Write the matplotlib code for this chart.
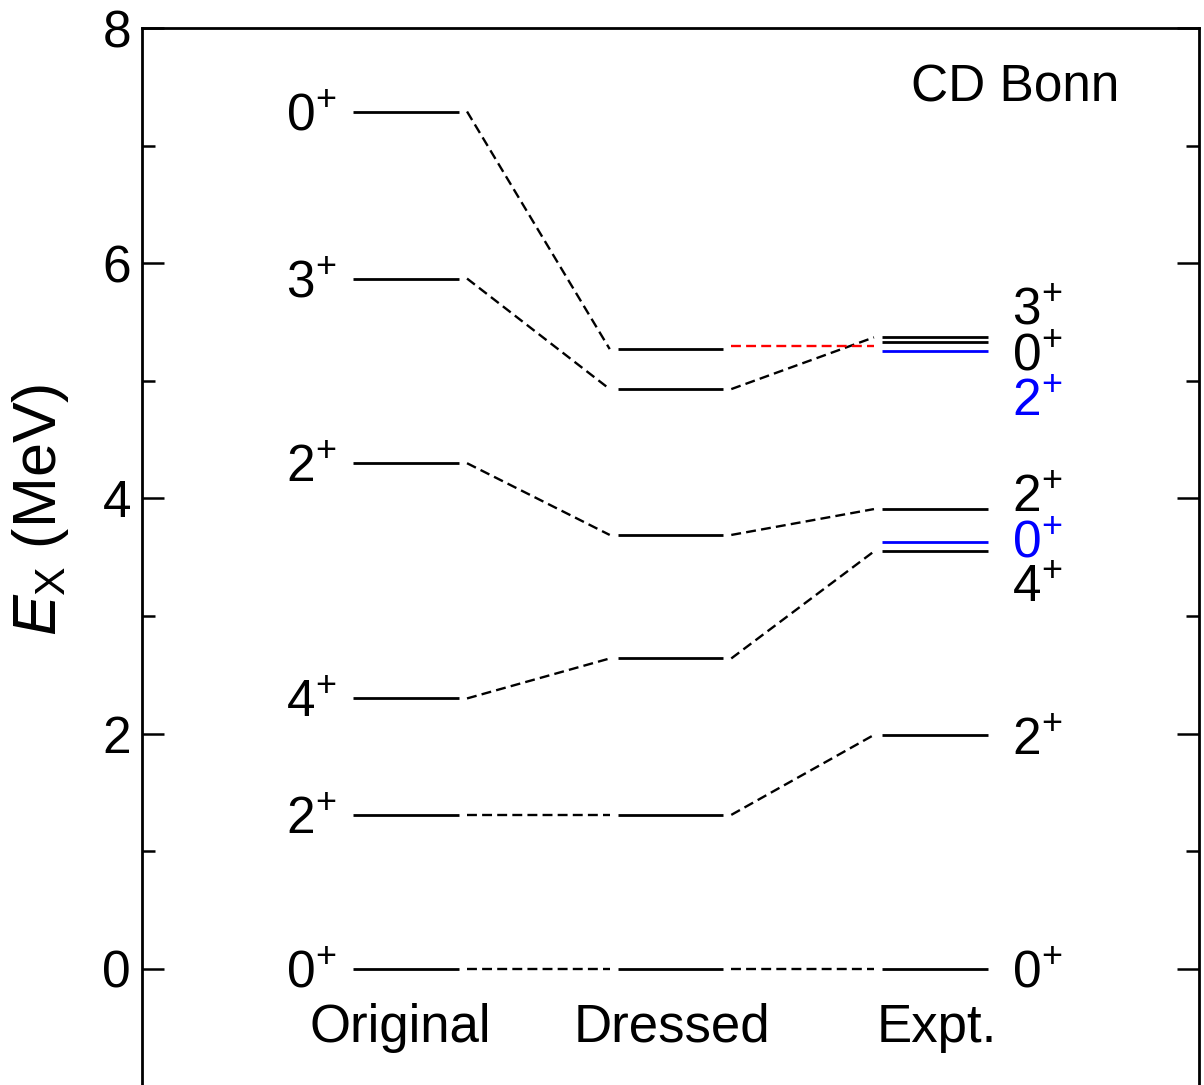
import matplotlib
matplotlib.use("Agg")
import matplotlib.pyplot as plt
from matplotlib.transforms import offset_copy

plt.rcParams['font.family'] = ['Liberation Sans', 'DejaVu Sans']
plt.rcParams['mathtext.fontset'] = 'custom'
plt.rcParams['mathtext.rm'] = 'Liberation Sans'
plt.rcParams['mathtext.it'] = 'Liberation Sans:italic'

# level energies (MeV)
columns = ['Original', 'Dressed', 'Expt.']
col_x = [2.5, 5.0, 7.5]

orig = [0.0, 1.31, 2.30, 4.30, 5.87, 7.29]
orig_spin = ['0', '2', '4', '2', '3', '0']
dressed = [0.0, 1.31, 2.64, 3.69, 4.93, 5.27]
expt = [0.0, 1.99, 3.55, 3.63, 3.91, 5.25, 5.33, 5.37]
expt_spin = ['0', '2', '4', '0', '2', '2', '0', '3']
expt_color = ['black', 'black', 'black', 'blue', 'black', 'blue', 'black', 'black']
expt_label_y = [0.0, 1.98, 3.28, 3.66, 4.05, 4.86, 5.25, 5.64]

# which expt level each dressed level links to (None = special red link)
link_to_expt = [0, 1, 2, 4, 7, None]
red_link = 5.30

fig = plt.figure(figsize=(12.04, 10.85), dpi=100)
ax = fig.add_axes([142/1204, (1085-1086.6)/1085, 1057/1204, 1058.6/1085])
ax.set_xlim(0, 10)
ax.set_ylim(-1, 8)

hw = 0.5
gap = 0.075
lw_lev = 2.0
dash = dict(color='black', lw=1.7, linestyle=(0, (4.2, 2.2)))

for y in orig:
    ax.plot([col_x[0]-hw, col_x[0]+hw], [y, y], color='black', lw=lw_lev, solid_capstyle='butt')
for y in dressed:
    ax.plot([col_x[1]-hw, col_x[1]+hw], [y, y], color='black', lw=lw_lev, solid_capstyle='butt')
for y, c in zip(expt, expt_color):
    ax.plot([col_x[2]-hw, col_x[2]+hw], [y, y], color=c, lw=lw_lev, solid_capstyle='butt')

for i in range(len(orig)):
    ax.plot([col_x[0]+hw+gap, col_x[1]-hw-gap], [orig[i], dressed[i]], **dash)
    j = link_to_expt[i]
    if j is None:
        ax.plot([col_x[1]+hw+gap, col_x[2]-hw-gap], [red_link, red_link],
                color='red', lw=1.7, linestyle=(0, (4.2, 2.2)))
    else:
        ax.plot([col_x[1]+hw+gap, col_x[2]-hw-gap], [dressed[i], expt[j]], **dash)

fs = 37
tr = offset_copy(ax.transData, fig=fig, x=0, y=-19, units='dots')
for y, s in zip(orig, orig_spin):
    ax.text(1.835, y, s + '$^{+}$', fontsize=fs, ha='right', va='baseline', transform=tr)
for y, s, c in zip(expt_label_y, expt_spin, expt_color):
    ax.text(8.23, y, s + '$^{+}$', fontsize=fs, ha='left', va='baseline', color=c, transform=tr)

for x, name in zip([2.44, 5.01, 7.52], columns):
    ax.text(x, -0.62, name, fontsize=38, ha='center', va='baseline')

ax.text(9.25, 7.49, 'CD Bonn', fontsize=37, ha='right', va='center')

ax.set_yticks([0, 2, 4, 6, 8])
ax.set_yticks([1, 3, 5, 7], minor=True)
ax.set_xticks([])
ax.tick_params(axis='y', which='major', direction='in', length=16, width=1.8,
               labelsize=fs, pad=8, right=True)
ax.tick_params(axis='y', which='minor', direction='in', length=9.5, width=1.8, right=True)
ax.spines['bottom'].set_visible(False)
for sp in ['left', 'right', 'top']:
    ax.spines[sp].set_linewidth(2.0)

ax.set_ylabel(r'$E_{\mathrm{X}}$ (MeV)', fontsize=44, va='center')
ax.yaxis.set_label_coords(-0.096, 0.545)

fig.savefig('out.png', dpi=100)
